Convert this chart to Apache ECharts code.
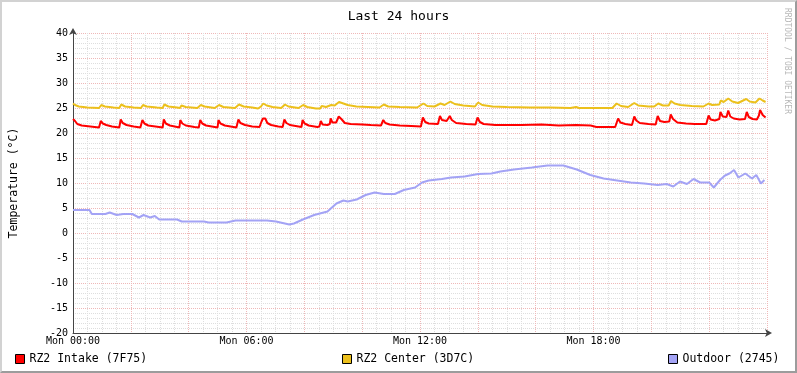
<!DOCTYPE html>
<html>
<head>
<meta charset="utf-8">
<script src="https://cdn.jsdelivr.net/npm/echarts@6/dist/echarts.min.js"></script>
<style>
  body { margin: 0; background: #fff; }
  #wrap { position: relative; width: 797px; height: 373px; }
  #chart { width: 797px; height: 373px; }
  /* 3d frame like rrdtool */
  #frame {
    position: absolute; left: 0; top: 0; width: 797px; height: 373px;
    box-sizing: border-box; border: 2px solid; pointer-events: none;
    border-color: #d2d2d2 #9c9c9c #9c9c9c #d2d2d2;
  }
</style>
</head>
<body>
<div id="wrap">
  <div id="chart"></div>
  <div id="frame"></div>
</div>
<script>
// x = hours since Mon 00:00, y = temperature (°C)
var hourTicks = [0, 6, 12, 18];
var seriesNames = ['RZ2 Intake (7F75)', 'RZ2 Center (3D7C)', 'Outdoor (2745)'];
var seriesColors = ['#ff0000', '#ecc01c', '#a3a3f5'];

var intake = [
  [0, 22.8], [0.07, 22.4], [0.15, 21.8], [0.3, 21.5], [0.6, 21.3], [0.9, 21.1],
  [0.96, 22.4], [1.03, 21.9], [1.15, 21.6], [1.35, 21.3], [1.6, 21.1],
  [1.65, 22.7], [1.72, 22.0], [1.85, 21.6], [2.1, 21.3], [2.33, 21.1],
  [2.40, 22.6], [2.47, 21.9], [2.6, 21.5], [2.85, 21.3], [3.1, 21.1],
  [3.14, 22.7], [3.21, 21.9], [3.35, 21.5], [3.6, 21.2], [3.68, 21.1],
  [3.71, 22.6], [3.78, 21.9], [3.9, 21.5], [4.2, 21.2], [4.35, 21.1],
  [4.40, 22.6], [4.47, 21.9], [4.6, 21.5], [4.9, 21.2], [5.0, 21.1],
  [5.03, 22.6], [5.1, 21.9], [5.25, 21.5], [5.55, 21.2], [5.65, 21.1],
  [5.72, 22.7], [5.79, 22.0], [5.95, 21.6], [6.2, 21.3], [6.45, 21.2], [6.52, 22.3],
  [6.57, 22.9], [6.65, 22.9], [6.72, 22.0], [6.85, 21.6], [7.1, 21.3], [7.25, 21.2],
  [7.31, 22.7], [7.38, 22.0], [7.5, 21.6], [7.8, 21.3], [7.9, 21.2],
  [7.94, 22.6], [8.01, 21.9], [8.15, 21.5], [8.45, 21.2], [8.52, 21.3],
  [8.57, 22.4], [8.63, 21.7], [8.8, 21.6], [8.88, 21.8], [8.91, 22.9], [8.97, 22.1],
  [9.1, 22.1], [9.15, 22.3], [9.19, 23.3], [9.28, 22.8], [9.4, 22.0], [9.6, 21.8],
  [10.0, 21.7], [10.3, 21.6], [10.65, 21.5],
  [10.73, 22.6], [10.8, 22.0], [10.95, 21.7], [11.3, 21.5], [11.7, 21.4], [12.03, 21.3],
  [12.10, 23.1], [12.18, 22.2], [12.3, 21.9], [12.62, 21.8],
  [12.69, 23.4], [12.76, 22.6], [12.92, 22.4], [13.03, 23.4], [13.1, 22.6], [13.25, 22.0],
  [13.6, 21.8], [13.92, 21.7],
  [13.99, 23.1], [14.07, 22.2], [14.2, 21.8], [14.6, 21.6], [15.5, 21.6], [16.2, 21.7],
  [16.8, 21.5], [17.4, 21.6], [17.9, 21.5], [18.1, 21.2], [18.75, 21.2],
  [18.85, 22.9], [18.93, 22.1], [19.1, 21.8], [19.33, 21.6],
  [19.41, 23.3], [19.48, 22.5], [19.6, 22.0], [19.9, 21.8], [20.15, 21.7],
  [20.22, 23.4], [20.3, 22.4], [20.45, 22.2], [20.62, 22.3], [20.67, 23.7], [20.75, 22.8],
  [20.9, 22.1], [21.2, 21.9], [21.5, 21.8], [21.9, 21.8],
  [21.98, 23.5], [22.05, 22.7], [22.2, 22.5], [22.35, 22.8], [22.39, 24.2], [22.47, 23.3],
  [22.6, 23.2], [22.66, 24.5], [22.73, 23.3], [22.85, 22.9], [23.05, 22.7], [23.24, 22.8],
  [23.30, 24.2], [23.37, 23.2], [23.5, 22.8], [23.65, 22.7], [23.72, 23.5],
  [23.76, 24.6], [23.85, 23.6], [23.95, 23.1]
];

var center = [
  [0, 25.9], [0.07, 25.6], [0.2, 25.3], [0.5, 25.1], [0.9, 25.0],
  [0.98, 25.6], [1.1, 25.3], [1.4, 25.1], [1.6, 25.0],
  [1.67, 25.7], [1.8, 25.3], [2.1, 25.1], [2.35, 25.0],
  [2.42, 25.6], [2.55, 25.3], [2.9, 25.1], [3.1, 25.0],
  [3.16, 25.7], [3.3, 25.3], [3.6, 25.1], [3.7, 25.0],
  [3.75, 25.5], [3.9, 25.2], [4.3, 25.0],
  [4.42, 25.6], [4.55, 25.3], [4.9, 25.0],
  [5.05, 25.6], [5.2, 25.2], [5.6, 25.0],
  [5.74, 25.7], [5.9, 25.3], [6.2, 25.1], [6.4, 24.9], [6.5, 25.3],
  [6.58, 25.9], [6.7, 25.5], [6.9, 25.2], [7.2, 25.0],
  [7.33, 25.7], [7.45, 25.3], [7.8, 25.0],
  [7.96, 25.6], [8.1, 25.2], [8.4, 24.9], [8.55, 24.9], [8.6, 25.4], [8.75, 25.2],
  [8.93, 25.6], [9.05, 25.5], [9.2, 26.2], [9.3, 26.0], [9.5, 25.6], [9.8, 25.3],
  [10.2, 25.2], [10.6, 25.1],
  [10.75, 25.7], [10.9, 25.3], [11.3, 25.2], [11.9, 25.1],
  [12.12, 25.9], [12.25, 25.4], [12.5, 25.3], [12.71, 25.9], [12.85, 25.6],
  [13.05, 26.3], [13.2, 25.8], [13.5, 25.5], [13.9, 25.3],
  [14.01, 26.1], [14.15, 25.6], [14.5, 25.3], [15.0, 25.2], [15.8, 25.1], [16.5, 25.1],
  [17.2, 25.0], [17.4, 25.2], [17.5, 25.0], [18.2, 25.0], [18.65, 25.0],
  [18.8, 25.9], [18.95, 25.4], [19.2, 25.2], [19.41, 26.0], [19.55, 25.5], [19.9, 25.3],
  [20.1, 25.3], [20.24, 25.9], [20.4, 25.5], [20.6, 25.5], [20.68, 26.4], [20.8, 25.9],
  [21.0, 25.6], [21.4, 25.4], [21.8, 25.3],
  [21.98, 25.9], [22.1, 25.6], [22.35, 25.7], [22.4, 26.5], [22.5, 26.2],
  [22.66, 26.9], [22.8, 26.3], [23.0, 26.0], [23.28, 26.8], [23.4, 26.3], [23.6, 26.1],
  [23.74, 26.9], [23.85, 26.5], [23.95, 26.2]
];

var outdoor = [
  [0, 4.6], [0.57, 4.6], [0.65, 3.8], [1.12, 3.8], [1.27, 4.1], [1.51, 3.6], [1.74, 3.8],
  [2.05, 3.8], [2.28, 3.1], [2.44, 3.6], [2.67, 3.1], [2.83, 3.4], [2.98, 2.7], [3.6, 2.7],
  [3.76, 2.3], [4.53, 2.3], [4.69, 2.1], [5.31, 2.1], [5.62, 2.5], [6.71, 2.5], [7.02, 2.3],
  [7.48, 1.7], [7.64, 1.9], [7.95, 2.7], [8.34, 3.6], [8.8, 4.3], [9.11, 5.9], [9.35, 6.5],
  [9.5, 6.3], [9.81, 6.7], [10.12, 7.6], [10.43, 8.1], [10.75, 7.8], [11.13, 7.8], [11.44, 8.6],
  [11.83, 9.1], [12.07, 10.1], [12.3, 10.5], [12.76, 10.8], [13.07, 11.1], [13.54, 11.3],
  [14.01, 11.8], [14.47, 11.9], [14.78, 12.3], [15.25, 12.7], [15.87, 13.1], [16.41, 13.5],
  [16.96, 13.5], [17.42, 12.7], [17.89, 11.6], [18.35, 10.9], [18.82, 10.5], [19.29, 10.1],
  [19.75, 9.9], [20.22, 9.6], [20.53, 9.8], [20.76, 9.3], [20.99, 10.3], [21.23, 9.8],
  [21.46, 10.8], [21.69, 10.1], [22.0, 10.1], [22.16, 9.1], [22.39, 10.7], [22.55, 11.5],
  [22.7, 11.9], [22.86, 12.6], [23.01, 11.1], [23.25, 11.9], [23.48, 10.9], [23.63, 11.6],
  [23.79, 9.9], [23.91, 10.6]
];

var mono = '"DejaVu Sans Mono", monospace';
var majorGrid = { color: '#efb8b8', type: [1, 1], width: 1 };
var minorGrid = { color: '#dedede', type: [1, 1], width: 1 };
var chart = echarts.init(document.getElementById('chart'));

function pad(n) { return (n < 10 ? '0' : '') + n; }

function makeSeries(name, color, data) {
  return {
    name: name,
    type: 'line',
    data: data,
    showSymbol: false,
    color: color,
    itemStyle: { color: color },
    lineStyle: { color: color, width: 2 }
  };
}

function makeLegend(name, left) {
  return {
    data: [name],
    left: left,
    top: 353,
    padding: 0,
    icon: 'rect',
    itemWidth: 9,
    itemHeight: 9,
    itemStyle: { borderColor: '#000', borderWidth: 1 },
    textStyle: { fontFamily: mono, fontSize: 11.5, color: '#000' },
    selectedMode: false
  };
}

chart.setOption({
  animation: false,
  backgroundColor: '#fff',
  title: {
    text: 'Last 24 hours',
    left: 'center',
    top: 5,
    textStyle: { fontFamily: mono, fontSize: 13, fontWeight: 'normal', color: '#000' }
  },
  legend: [
    makeLegend(seriesNames[0], 15),
    makeLegend(seriesNames[1], 342),
    makeLegend(seriesNames[2], 668)
  ],
  grid: { left: 67, right: 30, top: 33, bottom: 40 },
  xAxis: {
    type: 'value',
    min: 0,
    max: 24,
    interval: 2,
    axisLine: {
      onZero: false,
      lineStyle: { color: '#444', width: 1 },
      symbol: ['none', 'arrow'],
      symbolSize: [6, 7],
      symbolOffset: [0, 5]
    },
    axisTick: { show: false },
    axisLabel: {
      margin: 3,
      fontFamily: mono,
      fontSize: 10,
      color: '#000',
      showMaxLabel: false,
      formatter: function (v) {
        return hourTicks.indexOf(v) >= 0 ? 'Mon ' + pad(v) + ':00' : '';
      }
    },
    splitLine: { show: true, lineStyle: majorGrid },
    minorTick: { show: false, splitNumber: 4 },
    minorSplitLine: { show: true, lineStyle: minorGrid }
  },
  yAxis: {
    type: 'value',
    min: -20,
    max: 40,
    interval: 5,
    name: 'Temperature (°C)',
    nameLocation: 'middle',
    nameGap: 53,
    nameTextStyle: { fontFamily: mono, fontSize: 11.5, color: '#000' },
    axisLine: {
      show: true,
      lineStyle: { color: '#444', width: 1 },
      symbol: ['none', 'arrow'],
      symbolSize: [6, 7],
      symbolOffset: [0, 5]
    },
    axisTick: { show: false },
    axisLabel: { margin: 5, fontFamily: mono, fontSize: 10, color: '#000' },
    splitLine: { show: true, lineStyle: majorGrid },
    minorTick: { show: false, splitNumber: 5 },
    minorSplitLine: { show: true, lineStyle: minorGrid }
  },
  graphic: [{
    type: 'text',
    left: 783,
    top: 8,
    rotation: -Math.PI / 2,
    style: {
      text: 'RRDTOOL / TOBI OETIKER',
      fontFamily: mono,
      fontSize: 8,
      fill: '#b8b8b8'
    }
  }],
  series: [
    makeSeries(seriesNames[0], seriesColors[0], intake),
    makeSeries(seriesNames[1], seriesColors[1], center),
    makeSeries(seriesNames[2], seriesColors[2], outdoor)
  ]
});
</script>
</body>
</html>
